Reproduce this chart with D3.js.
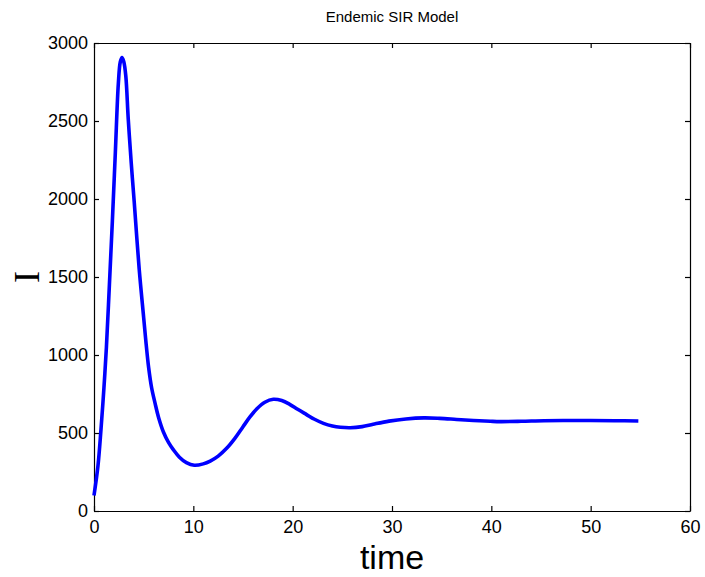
<!DOCTYPE html>
<html>
<head>
<meta charset="utf-8">
<script src="https://cdn.jsdelivr.net/npm/d3@7"></script>
<style>
  body { margin: 0; background: #fff; }
  .tick text { font-family: "Liberation Sans", Arial, sans-serif; font-size: 18px; fill: #000; }
  .domain, .tick line { stroke: #000; stroke-width: 1.2; }
</style>
</head>
<body>
<div id="chart"></div>
<script>
// values
const timeVals = [0, 0.4, 0.7, 1.0, 1.25, 1.55, 1.85, 2.15, 2.45, 2.65, 2.82, 3.0, 3.2, 3.45, 3.75, 4.05, 4.55, 5.0, 5.25, 5.5, 5.8, 6.15, 6.5, 7.0, 7.5, 8.0, 8.6, 9.3, 10.1, 11.0, 11.7, 12.5, 13.4, 14.2, 15.0, 15.7, 16.4, 17.2, 18.05, 18.9, 19.7, 20.5, 21.4, 22.2, 23.1, 24.0, 24.8, 25.8, 27.0, 28.1, 29.7, 31.4, 33.2, 34.8, 36.5, 38.2, 39.9, 40.9, 43.0, 45.3, 47.6, 50.0, 52.4, 54.8];
const infected = [100, 290, 520, 790, 1050, 1450, 1860, 2300, 2740, 2880, 2907, 2880, 2790, 2510, 2230, 1980, 1550, 1240, 1070, 920, 790, 690, 600, 505, 440, 392, 345, 310, 293, 302, 320, 352, 405, 467, 540, 603, 655, 697, 716, 708, 684, 652, 618, 588, 562, 545, 537, 534, 541, 556, 576, 590, 597, 594, 587, 580, 575, 573, 575, 579, 580, 580, 579, 577];
const xTicks = [0, 10, 20, 30, 40, 50, 60];
const yTicks = [0, 500, 1000, 1500, 2000, 2500, 3000];

const W = 705, H = 577;
const margin = {top: 43, right: 15, bottom: 66, left: 94};
const iw = W - margin.left - margin.right;
const ih = H - margin.top - margin.bottom;

let svg = d3.select("#chart")
  .append("svg")
  .attr("width", W)
  .attr("height", H);

let g = svg.append("g")
  .attr("transform", `translate(${margin.left},${margin.top})`);

let x = d3.scaleLinear().domain([0, 60]).range([0, iw]);
let y = d3.scaleLinear().domain([0, 3000]).range([ih, 0]);

// axes, ticks point inward on all four sides
g.append("g")
  .attr("transform", `translate(0,${ih})`)
  .call(d3.axisBottom(x).tickValues(xTicks).tickFormat(d3.format("d"))
    .tickSize(-5).tickSizeOuter(0).tickPadding(9));
g.append("g")
  .call(d3.axisTop(x).tickValues(xTicks).tickSize(-5).tickSizeOuter(0).tickFormat(""));
g.append("g")
  .call(d3.axisLeft(y).tickValues(yTicks).tickFormat(d3.format("d"))
    .tickSize(-5).tickSizeOuter(0).tickPadding(6));
g.append("g")
  .attr("transform", `translate(${iw},0)`)
  .call(d3.axisRight(y).tickValues(yTicks).tickSize(-5).tickSizeOuter(0).tickFormat(""));

g.selectAll(".tick text").attr("fill", "#000");

let data = timeVals.map((t, i) => ({t: t, v: infected[i]}));

let line = d3.line()
  .x(d => x(d.t))
  .y(d => y(d.v))
  .curve(d3.curveCatmullRom.alpha(0.5));

g.append("path")
  .datum(data)
  .attr("fill", "none")
  .attr("stroke", "#0000ff")
  .attr("stroke-width", 3.6)
  .attr("stroke-linejoin", "round")
  .attr("d", line);

// title and labels
svg.append("text")
  .attr("x", margin.left + iw / 2)
  .attr("y", 22)
  .attr("text-anchor", "middle")
  .attr("font-family", "Liberation Sans, Arial, sans-serif")
  .attr("font-size", "15px")
  .text("Endemic SIR Model");

svg.append("text")
  .attr("x", margin.left + iw / 2)
  .attr("y", 569)
  .attr("text-anchor", "middle")
  .attr("font-family", "Liberation Sans, Arial, sans-serif")
  .attr("font-size", "34px")
  .text("time");

svg.append("text")
  .attr("transform", `translate(39,${margin.top + ih / 2}) rotate(-90)`)
  .attr("text-anchor", "middle")
  .attr("font-family", "Liberation Serif, Times New Roman, serif")
  .attr("font-size", "36px")
  .text("I");
</script>
</body>
</html>
